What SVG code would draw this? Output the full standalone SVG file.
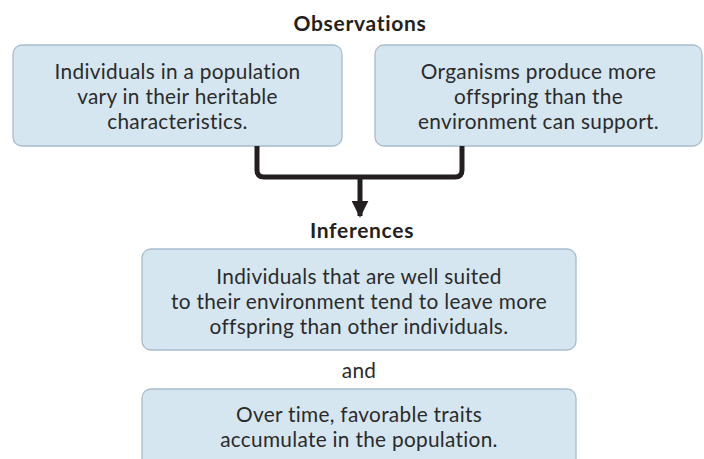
<svg xmlns="http://www.w3.org/2000/svg" width="704" height="459" viewBox="0 0 704 459">
<defs>
<style>
.box{fill:#d5e6f0;stroke:#a7bccb;stroke-width:1.3}
.t{font-family:Lato,"Open Sans",sans-serif;font-size:20.8px;letter-spacing:0.3px;font-variant-ligatures:none;fill:#2b2b2b;text-anchor:middle}
.h{font-family:Lato,"Open Sans",sans-serif;font-size:21px;letter-spacing:0.7px;font-variant-ligatures:none;font-weight:bold;fill:#231f20;text-anchor:middle}
.c{fill:none;stroke:#231f20;stroke-width:5}
</style>
<marker id="ah" viewBox="0 0 10 10" refX="9" refY="5" markerWidth="17" markerHeight="17" markerUnits="userSpaceOnUse" orient="auto">
<path d="M0,0 L10,5 L0,10 Z" fill="#231f20"/>
</marker>
</defs>
<rect width="704" height="459" fill="#ffffff"/>
<text class="h" x="360" y="31">Observations</text>
<g id="obs1">
<rect class="box" x="13" y="45" width="329" height="101" rx="9"/>
<text class="t" x="177.5" y="79">Individuals in a population</text>
<text class="t" x="177.5" y="104">vary in their heritable</text>
<text class="t" x="177.5" y="129">characteristics.</text>
</g>
<g id="obs2">
<rect class="box" x="375" y="45" width="327" height="101" rx="9"/>
<text class="t" x="538.5" y="79">Organisms produce more</text>
<text class="t" x="538.5" y="104">offspring than the</text>
<text class="t" x="538.5" y="129">environment can support.</text>
</g>
<g id="connectors">
<path class="c" d="M257,146 V170 Q257,177 264,177 H455 Q462,177 462,170 V146"/>
<path class="c" d="M360,177 V216" marker-end="url(#ah)"/>
</g>
<text class="h" x="362" y="238">Inferences</text>
<g id="inf1">
<rect class="box" x="142" y="249" width="434" height="101" rx="9"/>
<text class="t" x="359" y="284">Individuals that are well suited</text>
<text class="t" x="359" y="309">to their environment tend to leave more</text>
<text class="t" x="359" y="334">offspring than other individuals.</text>
</g>
<text class="t" x="359" y="378">and</text>
<g id="inf2">
<rect class="box" x="142" y="389" width="434" height="90" rx="9"/>
<text class="t" x="359" y="422">Over time, favorable traits</text>
<text class="t" x="359" y="447">accumulate in the population.</text>
</g>
</svg>
